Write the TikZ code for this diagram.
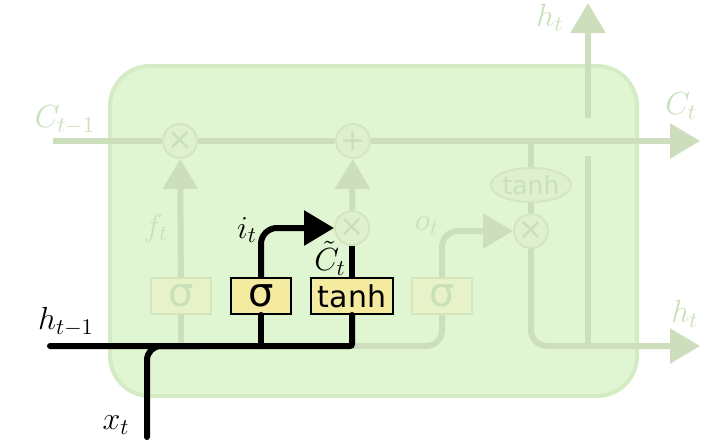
\RequirePackage{fix-cm}
\documentclass[tikz,border=0pt]{standalone}
\usepackage{fontspec}
\newfontfamily\gatefont{DejaVu Sans}
\usepackage{tikz}
\usetikzlibrary{arrows.meta,shapes.geometric}
\definecolor{cell-green}{RGB}{224,245,210}
\definecolor{cell-border}{RGB}{212,235,196}
\definecolor{fade-line}{RGB}{204,222,188}
\definecolor{fade-text}{RGB}{200,225,184}
\definecolor{fade-yellow}{RGB}{232,242,200}
\definecolor{fade-border}{RGB}{212,230,190}
\definecolor{op-fill}{RGB}{222,240,206}
\definecolor{gate-yellow}{RGB}{244,235,160}
\tikzstyle{fade}=[draw=fade-line, line width=3pt]
\tikzstyle{dark}=[draw=black, line width=3pt, line cap=round]
\tikzstyle{gatebox}=[rectangle, draw=black, line width=1pt, fill=gate-yellow, minimum height=18pt, minimum width=30pt, inner sep=0pt, font=\gatefont\fontsize{15}{17}\selectfont]
\tikzstyle{fadebox}=[gatebox, draw=fade-border, fill=fade-yellow, text=fade-text]
\tikzstyle{pointop}=[circle, draw=fade-border, fill=op-fill, line width=1pt, minimum size=17pt, inner sep=0pt, text=fade-text, font=\gatefont\fontsize{15}{15}\selectfont]
\tikzstyle{lab}=[inner sep=0pt, font=\fontsize{16}{18}\selectfont]
\tikzstyle{fadelab}=[lab, text=fade-text]
\newcommand{\sig}{\fontsize{20}{20}\selectfont σ}

\begin{document}
\begin{tikzpicture}[x=0.5pt, y=-0.5pt, >={Triangle[length=15pt,width=17pt]}]
	\useasboundingbox (0,0) rectangle (727,445);
	% cell
	\draw[cell-border, fill=cell-green, line width=2pt, rounded corners=20pt] (110,66) rectangle (637,396);
	% gates and pointwise operations
	\node[fadebox] (sf) at (181,296) {\sig};
	\node[gatebox] (si) at (261,296) {\sig};
	\node[gatebox, minimum width=41pt] (st) at (352,296) {tanh};
	\node[fadebox] (so) at (442,296) {\sig};
	\node[pointop] (mf) at (180,141) {×};
	\node[pointop] (pc) at (353,141) {+};
	\node[pointop] (mi) at (352,228) {×};
	\node[pointop] (mo) at (531,231) {×};
	\node[ellipse, draw=fade-border, fill=op-fill, line width=1pt, minimum width=40pt, minimum height=17pt, inner sep=0pt, text=fade-text, font=\gatefont\fontsize{12.5}{14}\selectfont] (th) at (531,185) {tanh};
	\coordinate (cin) at (53,141);
	\coordinate (cout) at (700,141);
	\coordinate (tap) at (531,141);
	\coordinate (hin) at (50,346);
	\coordinate (hj) at (352,346);
	\coordinate (xin) at (147,437);
	\coordinate (xj) at (200,346);
	\coordinate (hout) at (700,346);
	\coordinate (hbot) at (588,346);
	\coordinate (hlow) at (588,156);
	\coordinate (hhigh) at (588,118);
	\coordinate (hup) at (588,3);
	% faded paths
	\draw[fade, ->] (cin) -- (mf) -- (pc) -- (cout);
	\draw[fade, ->] (sf) -- (mf);
	\draw[fade] (sf.south) -- (181,346);
	\draw[fade, ->] (mi) -- (pc);
	\draw[fade, rounded corners=8pt] (hj) -| (so.south);
	\draw[fade, ->, rounded corners=8pt] (so.north) |- (mo.west);
	\draw[fade] (tap) -- (th);
	\draw[fade] (th) -- (mo);
	\draw[fade, ->, rounded corners=8pt] (mo.south) |- (hout);
	\draw[fade] (hbot) -- (hlow);
	\draw[fade, ->] (hhigh) -- (hup);
	% input gate
	\draw[dark, rounded corners=7pt] (xin) |- (xj);
	\draw[dark, rounded corners=1pt] (hin) -- (hj) -- (st.south);
	\draw[dark] (si.south) -- (261,346);
	\draw[dark, ->, line cap=butt, rounded corners=8pt] (si.north) |- (mi.west);
	\draw[dark, line cap=butt] (st.north) -- (mi.south);
	% labels
	\node[fadelab] (lcin) at (65,120) {$C_{t-1}$};
	\node[fadelab] (lcout) at (681,106) {$C_t$};
	\node[fadelab] (lhup) at (550,18) {$h_t$};
	\node[fadelab] (lhout) at (685,314) {$h_t$};
	\node[fadelab] (lf) at (156,228) {$f_t$};
	\node[fadelab] (lo) at (427,226) {$o_t$};
	\node[lab] (li) at (247,230) {$i_t$};
	\node[lab] (lct) at (330,258) {$\tilde{C}_t$};
	\node[lab] (lhin) at (66,322) {$h_{t-1}$};
	\node[lab] (lx) at (116,425) {$x_t$};
\end{tikzpicture}
\end{document}
